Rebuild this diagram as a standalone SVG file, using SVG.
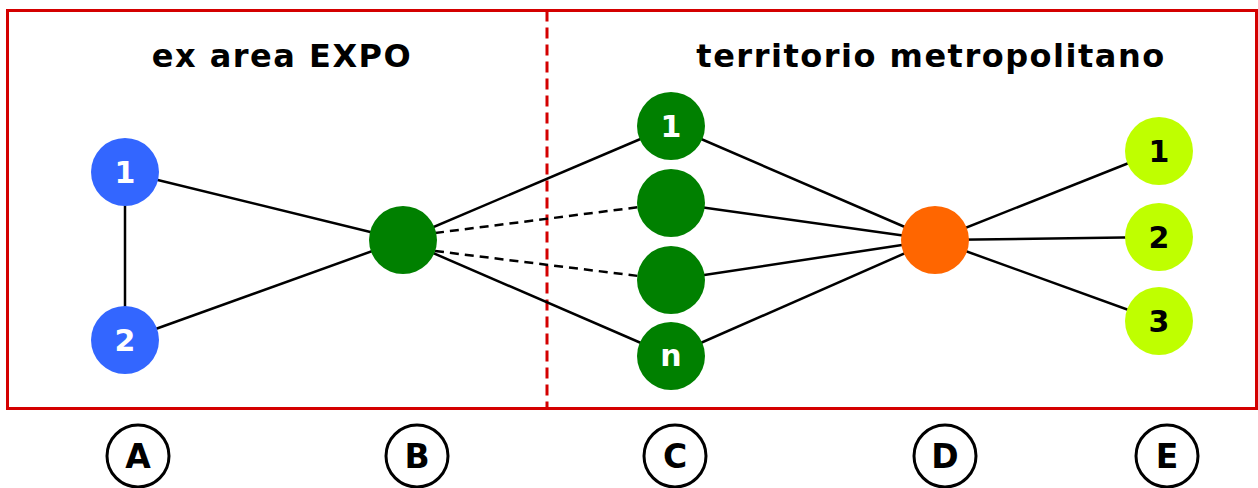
<svg xmlns="http://www.w3.org/2000/svg" width="1258" height="488" viewBox="0 0 1258 488">
<style>
.t{font-family:"DejaVu Sans","Verdana",sans-serif;font-weight:bold;}
.title{font-size:32px;fill:#000;letter-spacing:1.5px;}
.num{font-size:30px;fill:#fff;text-anchor:middle;}
.numk{font-size:30px;fill:#000;text-anchor:middle;}
.lab{font-size:33px;fill:#000;text-anchor:middle;}
.e{stroke:#000;stroke-width:2.5;fill:none;}
.d{stroke-dasharray:9 6;}
.lc{fill:#fff;stroke:#000;stroke-width:3;}
</style>
<rect x="7.5" y="10.5" width="1249" height="398" fill="none" stroke="#d40000" stroke-width="3"/>
<line x1="547" y1="10.5" x2="547" y2="408.5" stroke="#d40000" stroke-width="3" stroke-dasharray="11 6"/>
<text class="t title" x="282" y="67" text-anchor="middle">ex area EXPO</text>
<text class="t title" x="931" y="67" text-anchor="middle">territorio metropolitano</text>
<g id="connectors">
<line class="e" x1="125" y1="172" x2="125" y2="340"/>
<line class="e" x1="125" y1="172" x2="403" y2="240"/>
<line class="e" x1="125" y1="340" x2="403" y2="240"/>
<line class="e" x1="403" y1="240" x2="671" y2="126"/>
<line class="e d" x1="435" y1="233" x2="671" y2="203"/>
<line class="e d" x1="435" y1="251" x2="671" y2="280"/>
<line class="e" x1="403" y1="240" x2="671" y2="356"/>
<line class="e" x1="671" y1="126" x2="935" y2="240"/>
<line class="e" x1="671" y1="203" x2="935" y2="240"/>
<line class="e" x1="671" y1="280" x2="935" y2="240"/>
<line class="e" x1="671" y1="356" x2="935" y2="240"/>
<line class="e" x1="935" y1="240" x2="1159" y2="151"/>
<line class="e" x1="935" y1="240" x2="1159" y2="237"/>
<line class="e" x1="935" y1="240" x2="1159" y2="321"/>
</g>
<g id="A1"><circle cx="125" cy="172" r="34" fill="#3366ff"/><text class="t num" x="125" y="183">1</text></g>
<g id="A2"><circle cx="125" cy="340" r="34" fill="#3366ff"/><text class="t num" x="125" y="351">2</text></g>
<g id="B"><circle cx="403" cy="240" r="34" fill="#008000"/></g>
<g id="C1"><circle cx="671" cy="126" r="34" fill="#008000"/><text class="t num" x="671" y="137">1</text></g>
<g id="C2"><circle cx="671" cy="203" r="34" fill="#008000"/></g>
<g id="C3"><circle cx="671" cy="280" r="34" fill="#008000"/></g>
<g id="Cn"><circle cx="671" cy="356" r="34" fill="#008000"/><text class="t num" x="671" y="366">n</text></g>
<g id="D"><circle cx="935" cy="240" r="34" fill="#ff6600"/></g>
<g id="E1"><circle cx="1159" cy="151" r="34" fill="#bfff00"/><text class="t numk" x="1159" y="162">1</text></g>
<g id="E2"><circle cx="1159" cy="237" r="34" fill="#bfff00"/><text class="t numk" x="1159" y="248">2</text></g>
<g id="E3"><circle cx="1159" cy="321" r="34" fill="#bfff00"/><text class="t numk" x="1159" y="332">3</text></g>
<g id="LA"><circle class="lc" cx="138" cy="456" r="31"/><text class="t lab" x="138" y="468">A</text></g>
<g id="LB"><circle class="lc" cx="417" cy="456" r="31"/><text class="t lab" x="417" y="468">B</text></g>
<g id="LC"><circle class="lc" cx="675" cy="456" r="31"/><text class="t lab" x="675" y="468">C</text></g>
<g id="LD"><circle class="lc" cx="945" cy="456" r="31"/><text class="t lab" x="945" y="468">D</text></g>
<g id="LE"><circle class="lc" cx="1167" cy="456" r="31"/><text class="t lab" x="1167" y="468">E</text></g>
</svg>
